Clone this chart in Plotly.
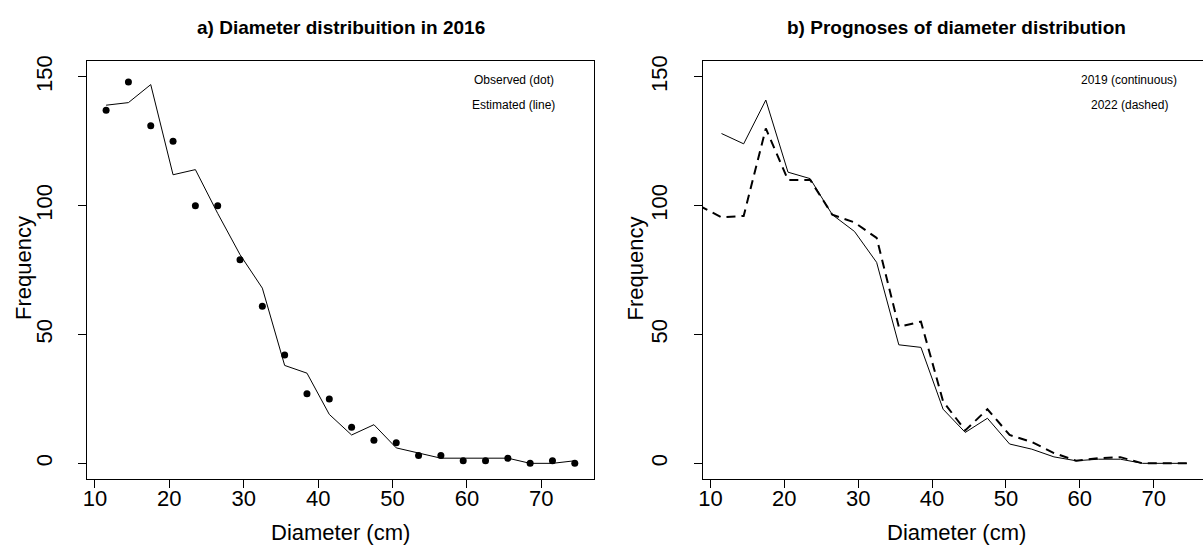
import plotly.graph_objects as go

# ---- data ----
diam = [11.5, 14.5, 17.5, 20.5, 23.5, 26.5, 29.5, 32.5, 35.5, 38.5, 41.5,
        44.5, 47.5, 50.5, 53.5, 56.5, 59.5, 62.5, 65.5, 68.5, 71.5, 74.5]
observed_2016 = [137, 148, 131, 125, 100, 100, 79, 61, 42, 27, 25,
                 14, 9, 8, 3, 3, 1, 1, 2, 0, 1, 0]
estimated_2016 = [139, 140, 147, 112, 114, 97, 81, 68, 38, 35, 19,
                  11, 15, 6, 4, 2, 2, 2, 2, 0, 0, 1]
prog_2019 = [128, 124, 141, 113, 110.5, 96.5, 90, 78, 46, 45, 21,
             12, 17.5, 7.5, 5.5, 2.5, 1, 1.6, 1.6, 0, 0, 0]
diam_2022 = [8.5] + diam
prog_2022 = [100, 95.5, 96, 130, 110, 110, 96.5, 93.5, 87.5, 53, 55, 24,
             12.8, 21, 11, 8.3, 4, 1, 2, 2.4, 0, 0, 0]

xticks = [10, 20, 30, 40, 50, 60, 70]
yticks = [0, 50, 100, 150]

W, H = 1203, 551
FONT = "Liberation Sans, Arial, sans-serif"

def px(x):
    return x / W

def py(y):
    return 1 - y / H

fig = go.Figure()

fig.add_trace(go.Scatter(x=diam, y=estimated_2016, mode="lines",
                         line=dict(color="black", width=1),
                         xaxis="x", yaxis="y", showlegend=False))
fig.add_trace(go.Scatter(x=diam, y=observed_2016, mode="markers",
                         marker=dict(color="black", size=7),
                         xaxis="x", yaxis="y", showlegend=False))
fig.add_trace(go.Scatter(x=diam, y=prog_2019, mode="lines",
                         line=dict(color="black", width=1),
                         xaxis="x2", yaxis="y2", showlegend=False))
fig.add_trace(go.Scatter(x=diam_2022, y=prog_2022, mode="lines",
                         line=dict(color="black", width=2, dash="9px,6px"),
                         xaxis="x2", yaxis="y2", showlegend=False))

ydom = [py(478), py(56)]
axis_common = dict(showgrid=False, zeroline=False, showline=True,
                   linecolor="black", linewidth=1, ticks="outside",
                   ticklen=8, tickcolor="black", tickwidth=1,
                   tickfont=dict(family=FONT, size=22, color="black"))

fig.update_layout(
    width=W, height=H,
    margin=dict(l=0, r=0, t=0, b=0),
    paper_bgcolor="white", plot_bgcolor="white",
    xaxis=dict(domain=[px(82.7), px(591)], range=[8.98, 77.02],
               tickvals=xticks, mirror=True, anchor="y",
               ticklabelstandoff=-8, **axis_common),
    yaxis=dict(domain=ydom, range=[-6, 156], tickvals=yticks,
               tickangle=-90, mirror=True, anchor="x",
               ticklabelstandoff=18, **axis_common),
    xaxis2=dict(domain=[px(700.8), 1.0], range=[8.98, 76.68],
                tickvals=xticks, mirror=True, anchor="y2",
                ticklabelstandoff=-8, **axis_common),
    yaxis2=dict(domain=ydom, range=[-6, 156], tickvals=yticks,
                tickangle=-90, mirror=False, anchor="x2",
                ticklabelstandoff=18, **axis_common),
)

ann = []
def text(x, y, s, size, bold=False, angle=0):
    ann.append(dict(x=px(x), y=py(y), xref="paper", yref="paper",
                    text=("<b>%s</b>" % s) if bold else s, showarrow=False,
                    textangle=angle, xanchor="center", yanchor="middle",
                    font=dict(family=FONT, size=size, color="black")))

text(337, 22, "a) Diameter distribuition in 2016", 19, bold=True)
text(955, 22, "b) Prognoses of diameter distribution", 19, bold=True)
text(337, 532, "Diameter (cm)", 22)
text(955, 532, "Diameter (cm)", 22)
text(18, 265, "Frequency", 22, angle=-90)
text(633, 265, "Frequency", 22, angle=-90)
text(511, 75, "Observed (dot)", 12)
text(511, 100, "Estimated (line)", 12)
text(1129, 75, "2019 (continuous)", 12)
text(1129, 100, "2022 (dashed)", 12)
fig.update_layout(annotations=ann)

fig.write_html("out.html")
